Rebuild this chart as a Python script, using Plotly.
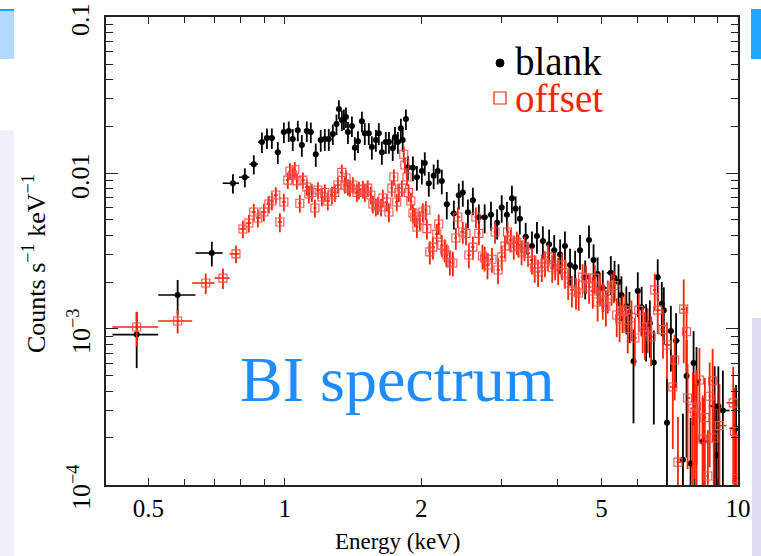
import math
import plotly.graph_objects as go

# ---------------- data ----------------
blank_energy = [
    0.471, 0.580, 0.690, 0.768, 0.816, 0.854, 0.890, 0.913, 0.936, 0.965,
    0.995, 1.020, 1.041, 1.068, 1.090, 1.118, 1.141, 1.170, 1.200, 1.225,
    1.250, 1.276, 1.300, 1.316, 1.336, 1.350, 1.364, 1.378, 1.406, 1.427,
    1.450, 1.479, 1.501, 1.532, 1.556, 1.588, 1.612, 1.637, 1.670, 1.697,
    1.730, 1.750, 1.776, 1.803, 1.820, 1.850, 1.868, 1.917, 1.956, 2.006,
    2.036, 2.078, 2.130, 2.175, 2.220, 2.277, 2.360, 2.420, 2.470, 2.535,
    2.600, 2.680, 2.760, 2.850, 2.940, 3.010, 3.090, 3.170, 3.230, 3.300,
    3.400, 3.510, 3.600, 3.710, 3.830, 3.930, 4.050, 4.150, 4.260, 4.370,
    4.480, 4.600, 4.690, 4.800, 4.900, 5.030, 5.240, 5.340, 5.450, 5.530,
    5.670, 5.760, 5.880, 6.010, 6.130, 6.270, 6.390, 6.520, 6.650, 6.790,
    6.860, 6.970, 7.110, 7.300, 7.560, 7.700, 7.860, 7.980, 8.100, 8.360,
    8.880, 8.960, 9.050, 9.260, 9.900,
]
blank_counts = [
    9.2e-4, 1.65e-3, 3.07e-3, 8.6e-3, 9.4e-3, 0.0114, 0.0158, 0.0168, 0.0168, 0.0136,
    0.0183, 0.0186, 0.0165, 0.0188, 0.0151, 0.0186, 0.0183, 0.0132, 0.0163, 0.0165,
    0.0165, 0.0178, 0.0206, 0.0257, 0.0219, 0.0222, 0.0229, 0.0183, 0.0200, 0.0145,
    0.0160, 0.0215, 0.0180, 0.0180, 0.0147, 0.0163, 0.0180, 0.0136, 0.0158, 0.0158,
    0.0144, 0.0170, 0.0158, 0.0194, 0.0163, 0.0222, 0.0109, 0.0108, 0.0094, 0.0103,
    0.0116, 0.0086, 0.0096, 0.0103, 0.0089, 0.0063, 0.0055, 0.0072, 0.0075, 0.0056,
    0.0067, 0.0052, 0.0052, 0.0054, 0.0048, 0.0060, 0.0054, 0.0069, 0.0059, 0.0051,
    0.0039, 0.0034, 0.00395, 0.00367, 0.0035, 0.0032, 0.0030, 0.0034, 0.00257, 0.0025,
    0.0032, 0.00215, 0.00372, 0.00277, 0.00225, 0.00183, 0.00229, 0.00212, 0.0020, 0.00165,
    0.0014, 0.00127, 0.00062, 0.00175, 0.00138, 0.00103, 0.00109, 0.00061, 0.00215, 0.00145,
    0.00132, 0.00025, 0.00097, 0.00084, 0.000145, 0.00050, 0.000137, 0.000605, 0.00045, 0.00019,
    0.00032, 0.000155, 0.00032, 0.00030, 0.00023,
]
blank_relerr = [
    0.39, 0.25, 0.18, 0.14, 0.14, 0.14, 0.15, 0.15, 0.15, 0.16,
    0.15, 0.15, 0.16, 0.15, 0.16, 0.15, 0.15, 0.17, 0.16, 0.16,
    0.16, 0.15, 0.15, 0.14, 0.15, 0.15, 0.15, 0.16, 0.15, 0.17,
    0.16, 0.15, 0.16, 0.16, 0.17, 0.16, 0.16, 0.17, 0.16, 0.16,
    0.17, 0.16, 0.16, 0.15, 0.16, 0.15, 0.18, 0.18, 0.18, 0.18,
    0.17, 0.18, 0.18, 0.18, 0.18, 0.20, 0.21, 0.19, 0.19, 0.21,
    0.20, 0.21, 0.21, 0.21, 0.22, 0.20, 0.21, 0.20, 0.20, 0.21,
    0.23, 0.24, 0.23, 0.24, 0.24, 0.25, 0.25, 0.24, 0.27, 0.27,
    0.25, 0.28, 0.24, 0.26, 0.28, 0.30, 0.28, 0.29, 0.30, 0.32,
    0.34, 0.36, 0.60, 0.32, 0.35, 0.40, 0.40, 0.60, 0.30, 0.38,
    0.40, 0.95, 0.45, 0.50, 0.97, 0.70, 0.97, 0.60, 0.70, 0.90,
    0.80, 0.97, 0.80, 0.80, 0.90,
]

offset_energy = [
    0.471, 0.580, 0.669, 0.730, 0.780, 0.808, 0.833, 0.854, 0.872, 0.899,
    0.922, 0.936, 0.955, 0.975, 0.995, 1.015, 1.026, 1.041, 1.052, 1.063,
    1.079, 1.096, 1.118, 1.130, 1.147, 1.165, 1.183, 1.207, 1.225, 1.244,
    1.270, 1.289, 1.309, 1.336, 1.356, 1.364, 1.378, 1.392, 1.413, 1.442,
    1.457, 1.486, 1.501, 1.524, 1.548, 1.564, 1.588, 1.604, 1.630, 1.645,
    1.679, 1.697, 1.722, 1.740, 1.766, 1.785, 1.812, 1.830, 1.840, 1.860,
    1.875, 1.897, 1.917, 1.936, 1.956, 1.985, 2.016, 2.047, 2.058, 2.089,
    2.121, 2.164, 2.186, 2.220, 2.254, 2.277, 2.313, 2.348, 2.384, 2.408,
    2.470, 2.510, 2.547, 2.600, 2.640, 2.680, 2.730, 2.760, 2.800, 2.865,
    2.910, 2.954, 3.010, 3.060, 3.100, 3.150, 3.200, 3.250, 3.280, 3.330,
    3.380, 3.440, 3.510, 3.560, 3.620, 3.690, 3.750, 3.810, 3.890, 3.950,
    4.010, 4.090, 4.150, 4.220, 4.300, 4.390, 4.450, 4.540, 4.620, 4.690,
    4.780, 4.830, 4.900, 4.960, 5.030, 5.110, 5.160, 5.260, 5.320, 5.400,
    5.480, 5.560, 5.640, 5.710, 5.820, 5.920, 6.040, 6.160, 6.230, 6.320,
    6.430, 6.550, 6.650, 6.830, 6.970, 7.180, 7.250, 7.370, 7.590, 7.700,
    7.740, 7.950, 8.030, 8.100, 8.220, 8.360, 8.450, 8.580, 8.660, 8.790,
    8.840, 9.100, 9.760, 9.830, 9.930,
]
offset_counts = [
    1.03e-3, 1.125e-3, 1.97e-3, 2.12e-3, 3.03e-3, 4.38e-3, 4.78e-3, 5.62e-3, 5.15e-3, 5.62e-3,
    6.33e-3, 6.62e-3, 7.23e-3, 4.85e-3, 6.52e-3, 9.0e-3, 1.03e-2, 9.7e-3, 1.05e-2, 8.9e-3,
    6.4e-3, 9.0e-3, 8.13e-3, 7.33e-3, 7.5e-3, 5.97e-3, 7.78e-3, 7.02e-3, 7.5e-3, 6.62e-3,
    7.23e-3, 7.5e-3, 8.38e-3, 1.01e-2, 8.38e-3, 9.29e-3, 8.13e-3, 8.0e-3, 8.38e-3, 7.5e-3,
    7.78e-3, 7.88e-3, 7.5e-3, 8.0e-3, 7.23e-3, 6.33e-3, 6.05e-3, 6.2e-3, 6.05e-3, 6.91e-3,
    6.52e-3, 5.62e-3, 8.0e-3, 9.42e-3, 6.52e-3, 7.5e-3, 8.0e-3, 1.32e-2, 1.125e-2, 9.42e-3,
    7.5e-3, 6.62e-3, 5.54e-3, 5.22e-3, 4.51e-3, 5.0e-3, 5.62e-3, 5.79e-3, 4.4e-3, 3.12e-3,
    3.35e-3, 4.06e-3, 4.71e-3, 3.45e-3, 3.21e-3, 2.98e-3, 2.69e-3, 2.65e-3, 3.83e-3, 5.22e-3,
    4.19e-3, 4.1e-3, 2.98e-3, 3.35e-3, 5.22e-3, 4.1e-3, 2.94e-3, 2.85e-3, 2.57e-3, 2.8e-3,
    4.19e-3, 2.39e-3, 2.9e-3, 3.4e-3, 4.19e-3, 3.72e-3, 3.35e-3, 3.6e-3, 3.45e-3, 3.12e-3,
    3.31e-3, 3.06e-3, 2.76e-3, 2.47e-3, 2.32e-3, 2.5e-3, 2.65e-3, 2.9e-3, 2.47e-3, 2.57e-3,
    2.39e-3, 2.57e-3, 2.29e-3, 1.97e-3, 1.78e-3, 1.73e-3, 1.7e-3, 2.15e-3, 2.12e-3, 1.86e-3,
    1.75e-3, 2.12e-3, 1.49e-3, 1.83e-3, 1.53e-3, 1.4e-3, 1.65e-3, 1.83e-3, 1.9e-3, 1.23e-3,
    1.16e-3, 1.29e-3, 1.32e-3, 1.01e-3, 1.18e-3, 8.75e-4, 1.32e-3, 1.03e-3, 9.6e-4, 1.03e-3,
    8.9e-4, 1.78e-3, 1.32e-3, 9.9e-4, 7.9e-4, 4.25e-4, 6.33e-4, 1.4e-4, 1.34e-3, 9.6e-4,
    3.61e-4, 3.1e-4, 2.9e-4, 3.2e-4, 4.71e-4, 1.97e-4, 2.7e-4, 1.14e-4, 3.7e-4, 4.66e-4,
    2.0e-4, 2.4e-4, 3.36e-4, 2.2e-4, 1.1e-4,
]
offset_relerr = [
    0.25, 0.17, 0.15, 0.15, 0.13, 0.13, 0.13, 0.13, 0.13, 0.13,
    0.13, 0.13, 0.12, 0.14, 0.13, 0.12, 0.12, 0.12, 0.12, 0.12,
    0.13, 0.12, 0.12, 0.13, 0.13, 0.13, 0.12, 0.13, 0.13, 0.13,
    0.13, 0.13, 0.12, 0.12, 0.12, 0.12, 0.12, 0.12, 0.12, 0.13,
    0.13, 0.13, 0.13, 0.12, 0.13, 0.13, 0.13, 0.13, 0.13, 0.13,
    0.13, 0.14, 0.12, 0.12, 0.13, 0.13, 0.12, 0.12, 0.12, 0.12,
    0.13, 0.13, 0.14, 0.14, 0.15, 0.14, 0.14, 0.14, 0.15, 0.17,
    0.17, 0.16, 0.15, 0.16, 0.17, 0.17, 0.18, 0.18, 0.16, 0.15,
    0.16, 0.16, 0.18, 0.17, 0.15, 0.16, 0.18, 0.18, 0.19, 0.18,
    0.16, 0.19, 0.18, 0.17, 0.16, 0.17, 0.17, 0.17, 0.17, 0.18,
    0.18, 0.18, 0.19, 0.20, 0.20, 0.20, 0.19, 0.19, 0.20, 0.20,
    0.20, 0.20, 0.21, 0.22, 0.23, 0.23, 0.23, 0.21, 0.21, 0.22,
    0.23, 0.21, 0.25, 0.23, 0.25, 0.26, 0.24, 0.23, 0.23, 0.28,
    0.29, 0.27, 0.27, 0.31, 0.29, 0.34, 0.28, 0.32, 0.34, 0.32,
    0.35, 0.27, 0.30, 0.35, 0.40, 0.60, 0.45, 0.95, 0.55, 0.45,
    0.65, 0.70, 0.75, 0.70, 0.60, 0.90, 0.80, 0.97, 0.65, 0.60,
    0.90, 0.85, 0.70, 0.90, 0.97,
]

series_names = ["blank", "offset"]
x_tick_values = [0.5, 1, 2, 5, 10]
x_tick_labels = ["0.5", "1", "2", "5", "10"]
y_tick_values = [1e-4, 1e-3, 1e-2, 1e-1]
y_tick_labels = ["10<sup>\u22124</sup>", "10<sup>\u22123</sup>", "0.01", "0.1"]
x_title = "Energy (keV)"
y_title = "Counts s<sup>\u22121</sup> keV<sup>\u22121</sup>"
panel_label = "BI spectrum"

# ---------------- styling ----------------
W, H = 761, 556
ML, MR, MT, MB = 106, 23, 17, 71
BLACK = "#000000"
RED = "#ff2200"
BLUE_TEXT = "#1e8cff"
SERIF = "Liberation Serif, Times New Roman, serif"


def bin_halfwidths(e):
    """half distances to neighbouring bin centres (bins are contiguous)"""
    n = len(e)
    plus, minus = [], []
    for i in range(n):
        right = (e[i + 1] - e[i]) if i < n - 1 else (e[i] - e[i - 1])
        left = (e[i] - e[i - 1]) if i > 0 else (e[i + 1] - e[i])
        plus.append(right / 2)
        minus.append(left / 2)
    return plus, minus


def abs_err(c, r):
    return [ci * ri for ci, ri in zip(c, r)]


fig = go.Figure()

bxp, bxm = bin_halfwidths(blank_energy)
fig.add_trace(go.Scatter(
    x=blank_energy, y=blank_counts, mode="markers", name=series_names[0], showlegend=False,
    marker=dict(symbol="circle", size=6, color=BLACK),
    error_y=dict(type="data", array=abs_err(blank_counts, blank_relerr),
                 color=BLACK, thickness=1.8, width=0),
    error_x=dict(type="data", array=bxp, arrayminus=bxm,
                 color=BLACK, thickness=1.6, width=0),
))

oxp, oxm = bin_halfwidths(offset_energy)
fig.add_trace(go.Scatter(
    x=offset_energy, y=offset_counts, mode="markers", name=series_names[1], showlegend=False,
    marker=dict(symbol="square-open", size=8, color="#f05050",
                line=dict(width=1.1, color="#f05050")),
    error_y=dict(type="data", array=abs_err(offset_counts, offset_relerr),
                 color=RED, thickness=1.8, width=0),
    error_x=dict(type="data", array=oxp, arrayminus=oxm,
                 color=RED, thickness=1.6, width=0),
))

x_minor = [0.6, 0.7, 0.8, 0.9, 3, 4, 6, 7, 8, 9]
y_minor = [m * 10.0 ** d for d in (-4, -3, -2) for m in range(2, 10)]

axis_common = dict(
    type="log", showgrid=False, zeroline=False, showline=True,
    linecolor="#222222", linewidth=1.6, mirror="allticks",
    ticks="inside", tickcolor="#222222", tickwidth=1.4,
    automargin=False,
)

fig.update_xaxes(
    **axis_common,
    range=[-0.3947, 1.0],
    ticklabeloverflow="allow",
    tickfont=dict(family=SERIF, size=25, color="#000000"),
    tickmode="array", tickvals=x_tick_values, ticktext=x_tick_labels, ticklen=7,
    minor=dict(tickmode="array", tickvals=x_minor, ticks="inside", ticklen=6,
               tickcolor="#222222", tickwidth=1.4, showgrid=False),
)
# y tick labels are drawn as rotated annotations (below) so they can sit
# exactly where the reference has them
fig.update_yaxes(
    **axis_common,
    range=[-4.0005, -0.9995],
    tickmode="array", tickvals=y_tick_values, ticklen=12, showticklabels=False,
    minor=dict(tickmode="array", tickvals=y_minor, ticks="inside", ticklen=7,
               tickcolor="#222222", tickwidth=1.4, showgrid=False),
)


def px_x(p):
    return (p - ML) / (W - ML - MR)


def px_y(p):
    return (H - MB - p) / (H - MT - MB)


shapes = [
    # left top light-blue tab
    dict(type="rect", xref="paper", yref="paper", x0=px_x(0), x1=px_x(14),
         y0=px_y(59), y1=px_y(10), fillcolor="#b3d9ff", line=dict(width=0), layer="below"),
    dict(type="line", xref="paper", yref="paper", x0=px_x(0), x1=px_x(14),
         y0=px_y(10), y1=px_y(10), line=dict(color="#1aa3ff", width=2)),
    # right top blue tab
    dict(type="rect", xref="paper", yref="paper", x0=px_x(751), x1=px_x(761),
         y0=px_y(59), y1=px_y(9), fillcolor="#22a6ff", line=dict(width=0), layer="below"),
    # checkered side strips
    dict(type="rect", xref="paper", yref="paper", x0=px_x(0), x1=px_x(14),
         y0=px_y(556), y1=px_y(130), fillcolor="#f0f0fc", line=dict(width=0), layer="below"),
    dict(type="rect", xref="paper", yref="paper", x0=px_x(752), x1=px_x(761),
         y0=px_y(556), y1=px_y(318), fillcolor="#dcdcf6", line=dict(width=0), layer="below"),
    # legend glyphs
    dict(type="circle", xref="paper", yref="paper",
         x0=px_x(496), x1=px_x(504), y0=px_y(67), y1=px_y(59),
         fillcolor=BLACK, line=dict(color=BLACK, width=1)),
    dict(type="rect", xref="paper", yref="paper",
         x0=px_x(494), x1=px_x(506), y0=px_y(104), y1=px_y(92),
         fillcolor="rgba(0,0,0,0)", line=dict(color=RED, width=1.2)),
]

annotations = [
    dict(text=panel_label, xref="paper", yref="paper",
         x=px_x(397), y=px_y(379), xanchor="center", yanchor="middle",
         showarrow=False, font=dict(family=SERIF, size=64, color=BLUE_TEXT)),
    dict(text=series_names[0], xref="paper", yref="paper",
         x=px_x(513), y=px_y(61), xanchor="left", yanchor="middle", height=34,
         showarrow=False, font=dict(family=SERIF, size=39, color=BLACK)),
    dict(text=series_names[1], xref="paper", yref="paper",
         x=px_x(513), y=px_y(98), xanchor="left", yanchor="middle", height=34,
         showarrow=False, font=dict(family=SERIF, size=39, color=RED)),
    dict(text=x_title, xref="paper", yref="paper",
         x=px_x(397), y=px_y(541), xanchor="center", yanchor="middle",
         showarrow=False, font=dict(family=SERIF, size=23, color=BLACK)),
    dict(text=y_title, xref="paper", yref="paper", textangle=-90,
         x=px_x(34), y=px_y(264), xanchor="center", yanchor="middle",
         showarrow=False, font=dict(family=SERIF, size=26, color=BLACK)),
]

# rotated y tick labels, placed on the axis' own tick values
for val, lab in zip(y_tick_values, y_tick_labels):
    annotations.append(dict(
        text=lab, xref="paper", yref="y", x=px_x(80), y=math.log10(val),
        xanchor="center", yanchor="middle", yshift=-3, textangle=-90,
        showarrow=False, font=dict(family=SERIF, size=26, color=BLACK),
    ))

fig.update_layout(
    width=W, height=H, autosize=False,
    margin=dict(l=ML, r=MR, t=MT, b=MB, pad=0, autoexpand=False),
    paper_bgcolor="white", plot_bgcolor="white",
    font=dict(family=SERIF, color="#000000"),
    showlegend=False,
    shapes=shapes,
    annotations=annotations,
)

fig.write_html("out.html")
